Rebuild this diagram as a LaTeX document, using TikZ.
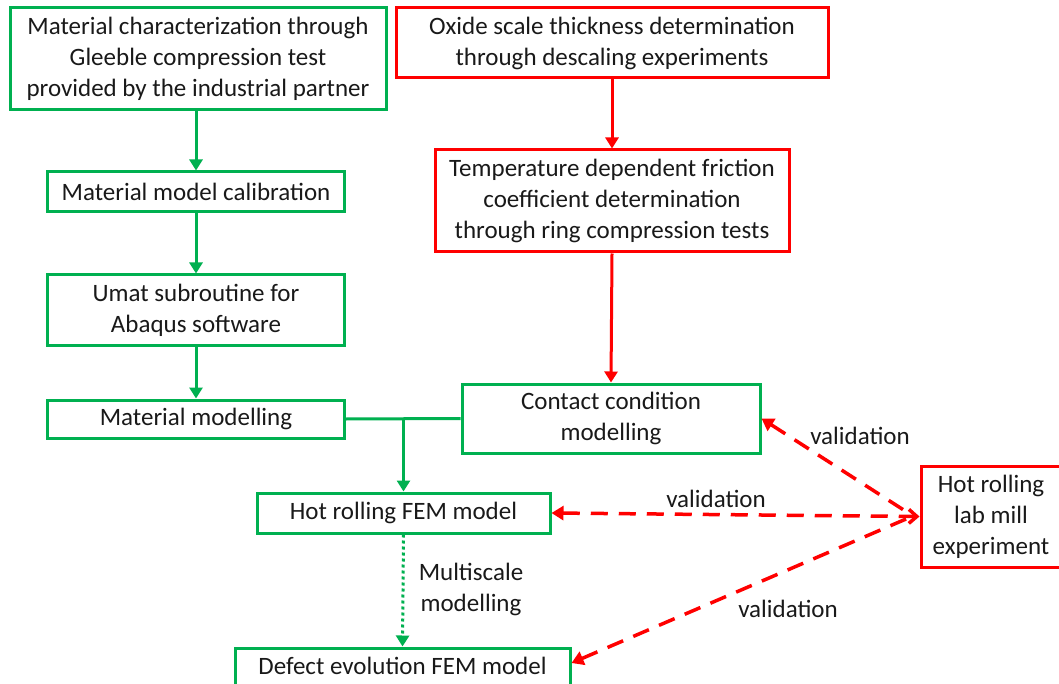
\documentclass[tikz,border=0pt]{standalone}
\usepackage{fontspec}
\setmainfont{Carlito}
\usetikzlibrary{arrows.meta}
\definecolor{gbox}{RGB}{0,176,80}
\definecolor{rbox}{RGB}{255,0,0}
\definecolor{txt}{RGB}{25,25,25}
\begin{document}
\begin{tikzpicture}[x=1pt,y=-1pt,
  box/.style={draw, line width=3pt, inner sep=0pt, align=center, text=txt, font=\fontsize{25}{31}\selectfont},
  gb/.style={box, draw=gbox},
  rb/.style={box, draw=rbox},
  garr/.style={draw=gbox, line width=3pt, -{Triangle[width=13pt,length=11pt]}},
  rarr/.style={draw=rbox, line width=3pt, -{Triangle[width=13pt,length=11pt]}},
  rdash/.style={draw=rbox, line width=3.5pt, dash pattern=on 17pt off 11pt},
  lbl/.style={text=txt, font=\fontsize{25}{31}\selectfont, align=center, inner sep=0pt}
]
\useasboundingbox (0,0) rectangle (1059,684);
\node[gb, minimum width=376pt, minimum height=102pt] (b1) at (198,59) {Material characterization through\\Gleeble compression test\\provided by the industrial partner};
\node[rb, minimum width=432pt, minimum height=70pt] (b2) at (612,43) {Oxide scale thickness determination\\through descaling experiments};
\node[gb, minimum width=297pt, minimum height=40pt] (b3) at (196,192) {Material model calibration};
\node[rb, minimum width=354pt, minimum height=102pt] (b4) at (612,201) {Temperature dependent friction\\coefficient determination\\through ring compression tests};
\node[gb, minimum width=297pt, minimum height=70pt] (b5) at (196,310) {Umat subroutine for\\Abaqus software};
\node[gb, minimum width=297pt, minimum height=38pt] (b6) at (196,419) {Material modelling};
\node[gb, minimum width=298pt, minimum height=69pt] (b7) at (611,418.5) {Contact condition\\modelling};
\node[gb, minimum width=293pt, minimum height=40pt] (b8) at (403.5,513) {Hot rolling FEM model};
\node[rb, minimum width=140pt, minimum height=101pt] (b9) at (991,516.5) {Hot rolling\\lab mill\\experiment};
\node[gb, minimum width=335pt, minimum height=48pt] (b10) at (402.5,672) {};
\node[lbl] at (402.5,666) {Defect evolution FEM model};
\coordinate (j) at (b8.north |- b6.east);
\coordinate (h) at (913,516);

\draw[garr] (b1.south -| b3.north) -- (b3.north);
\draw[garr] (b3) -- (b5);
\draw[garr] (b5) -- (b6);
\draw[rarr] (b2.south) -- (b4.north);
\draw[rarr] (b4.south) -- (b7.north);
\draw[draw=gbox, line width=3pt] (b6.east) -- (b7.west);
\draw[garr] (j) -- (b8.north);
\draw[draw=gbox, line width=3pt, dash pattern=on 3pt off 3pt, -{Triangle[width=13pt,length=11pt]}] (b8.south) -- (b10.north);
\node[lbl] at (471,589) {Multiscale\\modelling};

\draw[rdash, {Triangle[width=14pt,length=12pt]}-] (b7.east) -- (h);
\draw[rdash, {Triangle[width=14pt,length=12pt]}-{Straight Barb[width=14pt,length=8pt]}] (b8.east) -- (b9.west);
\draw[rdash, {Triangle[width=14pt,length=12pt]}-] (b10.east |- 0,663) -- (h);
\node[lbl] at (860,436) {validation};
\node[lbl] at (716,499) {validation};
\node[lbl] at (788,609) {validation};
\end{tikzpicture}
\end{document}
